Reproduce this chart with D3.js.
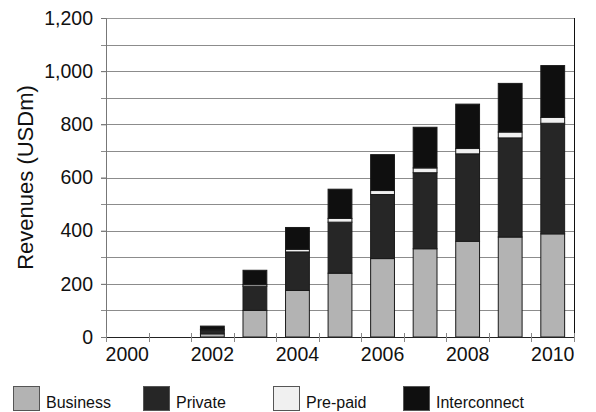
<!DOCTYPE html>
<html>
<head>
<meta charset="utf-8">
<script src="https://cdn.jsdelivr.net/npm/d3@7"></script>
<style>
  body { margin: 0; background: #fff; }
  text { font-family: "Liberation Sans", Arial, sans-serif; fill: #111; }
  .tituloeixo { font-size: 22px; }
  .rotuloeixo { font-size: 19.5px; }
  .legenda text { font-size: 16px; }
</style>
</head>
<body>
<svg id="grafico"></svg>
<script>
// Dados do gráfico (USDm)
var anos = ['2000','2001','2002','2003','2004','2005','2006','2007','2008','2009','2010'];
var business     = [0, 0, 12, 100, 175, 240, 295, 332, 360, 376, 388];
var privado      = [0, 0, 15,  91, 145, 192, 241, 286, 329, 373, 416];
var prepago      = [0, 0,  2,   6,  10,  14,  15,  18,  20,  22,  22];
var interconexao = [0, 0, 12,  54,  82, 110, 135, 153, 167, 183, 195];
var series = ['Business', 'Private', 'Pre-paid', 'Interconnect'];
var cores = ['#b3b3b3', '#262626', '#f0f0f0', '#0f0f0f'];
var ticksY = [0, 200, 400, 600, 800, 1000, 1200];
var rotulosX = ['2000', '2002', '2004', '2006', '2008', '2010'];

var largura = 596, altura = 412;
var margem = { esquerda: 106, direita: 22, superior: 18, inferior: 75 };
var larguraPlotagem = largura - margem.esquerda - margem.direita;
var alturaPlotagem = altura - margem.superior - margem.inferior;

var svg = d3.select('#grafico')
            .attr('width', largura)
            .attr('height', altura);

var plotagem = svg.append('g')
                  .attr('transform', 'translate(' + margem.esquerda + ',' + margem.superior + ')');

// Escalas
var x = d3.scaleBand().domain(anos).range([0, larguraPlotagem]).padding(0);
var y = d3.scaleLinear().domain([0, 1200]).range([alturaPlotagem, 0]);
var cor = d3.scaleOrdinal().domain(series).range(cores);

// Linhas de grade (a cada 100)
var grade = d3.range(100, 1201, 100);
plotagem.append('g').selectAll('line')
        .data(grade)
        .enter().append('line')
        .attr('x1', -5)
        .attr('x2', larguraPlotagem)
        .attr('y1', d => Math.round(y(d)) + 0.5)
        .attr('y2', d => Math.round(y(d)) + 0.5)
        .attr('stroke', d => d == 1200 ? '#999' : '#8c8c8c')
        .attr('stroke-width', 1);

// Borda direita
plotagem.append('line')
        .attr('x1', larguraPlotagem + 0.5).attr('x2', larguraPlotagem + 0.5)
        .attr('y1', 0).attr('y2', alturaPlotagem)
        .attr('stroke', '#111');

// Eixo Y
var eixoY = d3.axisLeft(y).tickValues(ticksY).tickFormat(d3.format(',')).tickSize(5).tickPadding(8);
var gY = plotagem.append('g').call(eixoY);
gY.select('.domain').attr('stroke', '#777');
gY.selectAll('.tick line').attr('stroke', '#777');
gY.selectAll('.tick text').classed('rotuloeixo', true).attr('font-family', null).attr('font-size', null).attr('fill', '#111');

// Barras empilhadas
var dados = anos.map((a, i) => ({ ano: a, 'Business': business[i], 'Private': privado[i], 'Pre-paid': prepago[i], 'Interconnect': interconexao[i] }));
var pilha = d3.stack().keys(series)(dados);
var larguraBarra = x.bandwidth() * 0.56;

plotagem.append('g').selectAll('g')
        .data(pilha)
        .enter().append('g')
        .attr('fill', d => cor(d.key))
        .selectAll('rect')
        .data(d => d.filter(p => p[1] - p[0] > 0))
        .enter().append('rect')
        .attr('x', d => x(d.data.ano) + (x.bandwidth() - larguraBarra) / 2)
        .attr('y', d => y(d[1]))
        .attr('width', larguraBarra)
        .attr('height', d => y(d[0]) - y(d[1]))
        .attr('stroke', '#1a1a1a')
        .attr('stroke-width', 1);

// Eixo X
plotagem.append('line')
        .attr('x1', 0).attr('x2', larguraPlotagem)
        .attr('y1', alturaPlotagem + 0.5).attr('y2', alturaPlotagem + 0.5)
        .attr('stroke', '#222');
var bordas = anos.map(a => x(a)).concat([larguraPlotagem]);
plotagem.append('g').selectAll('line')
        .data(bordas)
        .enter().append('line')
        .attr('x1', d => Math.round(d) + 0.5).attr('x2', d => Math.round(d) + 0.5)
        .attr('y1', alturaPlotagem - 4).attr('y2', alturaPlotagem + 5)
        .attr('stroke', '#888');
plotagem.append('g').selectAll('text')
        .data(rotulosX)
        .enter().append('text')
        .classed('rotuloeixo', true)
        .attr('x', d => x(d) + x.bandwidth() / 2)
        .attr('y', alturaPlotagem + 24)
        .style('text-anchor', 'middle')
        .text(d => d);

// Título do eixo Y
svg.append('text')
   .classed('tituloeixo', true)
   .attr('transform', 'translate(33,' + (margem.superior + alturaPlotagem / 2) + ') rotate(-90)')
   .style('text-anchor', 'middle')
   .text('Revenues (USDm)');

// Legenda
var legenda = svg.append('g').classed('legenda', true)
                 .selectAll('g')
                 .data(series)
                 .enter().append('g')
                 .attr('transform', (d, i) => 'translate(' + (13 + i * 130) + ',386)');
legenda.append('rect')
       .attr('x', 0.5).attr('y', 0.5)
       .attr('width', 26).attr('height', 24)
       .attr('fill', d => cor(d))
       .attr('stroke', '#555');
legenda.append('text')
       .attr('x', 33)
       .attr('y', 22)
       .text(d => d);
</script>
</body>
</html>
